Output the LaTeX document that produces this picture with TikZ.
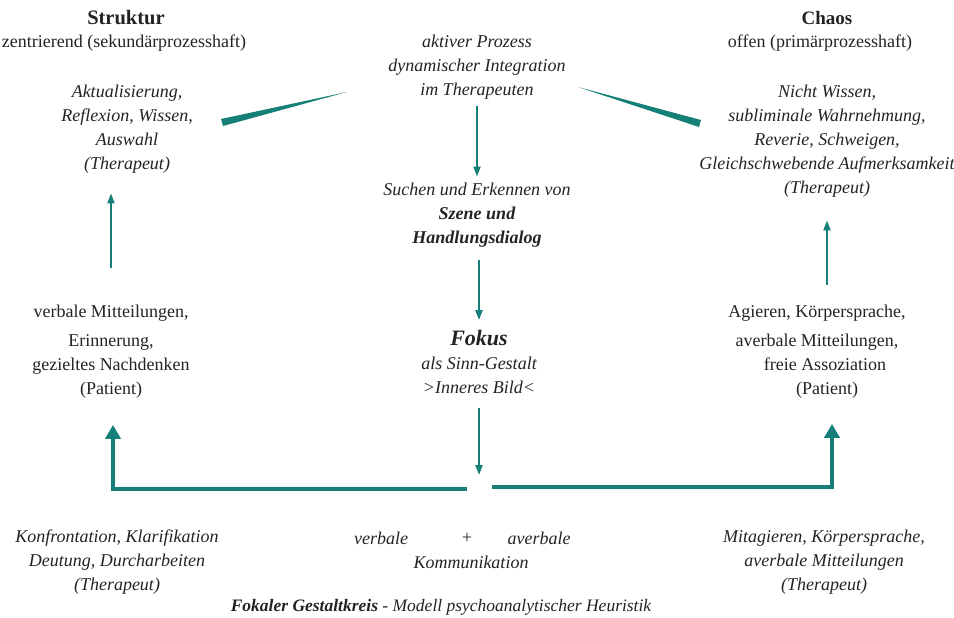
\documentclass[tikz,border=0pt]{standalone}
\usepackage{fontspec}
\setmainfont{Liberation Serif}
\usepackage{tikz}
\usetikzlibrary{arrows.meta}
\definecolor{petrol}{RGB}{20,128,120}
\definecolor{schrift}{RGB}{35,35,35}

\tikzset{
  txt/.style={align=center, inner sep=0pt, text=schrift, font=\fontsize{18}{24}\selectfont},
  itxt/.style={txt, font=\fontsize{18}{24}\selectfont\itshape},
  titel/.style={txt, font=\fontsize{19}{24}\selectfont\bfseries},
  pfeil/.style={draw=petrol, line width=2pt, -{Triangle[length=10pt,width=7pt]}},
  grosspfeil/.style={draw=petrol, line width=3.5pt, -{Triangle[length=14pt,width=15pt]}},
  keil/.style={fill=petrol},
}

\begin{document}
\begin{tikzpicture}[x=1pt, y=-1pt]
    \useasboundingbox (0,0) rectangle (954,618);

    % Struktur (links oben)
    \node[titel, font=\fontsize{20.5}{24}\selectfont\bfseries] (struktur) at (126,18) {Struktur};
    \node[txt] (zentr) at (124,43) {zentrierend (sekundärprozesshaft)};
    \node[itxt] (aktL) at (127,129) {Aktualisierung,\\Reflexion, Wissen,\\Auswahl\\(Therapeut)};

    % Chaos (rechts oben)
    \node[titel] (chaos) at (827,18) {Chaos};
    \node[txt] (offen) at (820,43) {offen (primärprozesshaft)};
    \node[itxt] (nwR) at (827,141) {Nicht Wissen,\\subliminale Wahrnehmung,\\Reverie, Schweigen,\\Gleichschwebende Aufmerksamkeit\\(Therapeut)};

    % Mitte
    \node[itxt] (prozess) at (477,67) {aktiver Prozess\\dynamischer Integration\\im Therapeuten};
    \node[itxt] (suchen) at (477,215) {Suchen und Erkennen von\\\textbf{Szene und}\\\textbf{Handlungsdialog}};
    \node[itxt] (fokus) at (479,362) {{\fontsize{22}{24}\selectfont\bfseries Fokus}\\als Sinn-Gestalt\\>Inneres Bild<};

    % Patient
    \node[txt] (vmL) at (111,352) {verbale Mitteilungen,\\[5pt]Erinnerung,\\gezieltes Nachdenken\\(Patient)};
    \node[txt] (agR) at (817,352) {Agieren, Körpersprache,\\[5pt]averbale Mitteilungen,\\\hspace*{16pt}freie Assoziation\\\hspace*{20pt}(Patient)};

    % unten
    \node[itxt] (konfr) at (117,562) {Konfrontation, Klarifikation\\Deutung, Durcharbeiten\\(Therapeut)};
    \node[itxt] (verb) at (381,538) {verbale};
    \node[itxt] (plus) at (467,538) {+};
    \node[itxt] (averb) at (539,538) {averbale};
    \node[itxt] (komm) at (471,562) {Kommunikation};
    \node[itxt] (mitag) at (824,562) {Mitagieren, Körpersprache,\\averbale Mitteilungen\\(Therapeut)};
    \node[txt, font=\fontsize{17.5}{20}\selectfont\itshape] (titelzeile) at (441,607)
        {\textbf{Fokaler Gestaltkreis} - Modell psychoanalytischer Heuristik};

    % Keile
    \fill[keil] (221,119) -- (347,92) -- (223,126) -- cycle;
    \fill[keil] (578,87) -- (701,120) -- (699,127) -- cycle;

    % Pfeile Mitte
    \draw[pfeil, shorten <=7pt, shorten >=6pt] (prozess.south) -- (suchen.north);
    \draw[pfeil, shorten <=13pt, shorten >=10pt] (suchen.south -| fokus.north) -- (fokus.north);
    \coordinate (mitte) at (479,475);
    \draw[pfeil, shorten <=14pt] (fokus.south) -- (mitte);

    % Pfeile Seiten
    \draw[pfeil, shorten <=37pt, shorten >=20pt] (vmL.north) -- (vmL.north |- aktL.south);
    \draw[pfeil, shorten <=20pt, shorten >=23pt] (agR.north -| nwR.south) -- (nwR.south);

    % Rueckkopplung
    \coordinate (gapL) at (467,489);
    \coordinate (gapR) at (492,487);
    \draw[grosspfeil, shorten >=26pt] (gapL) -| ([xshift=2pt]vmL.south);
    \draw[grosspfeil, shorten >=25pt] (gapR) -| ([xshift=15pt]agR.south);
\end{tikzpicture}
\end{document}
